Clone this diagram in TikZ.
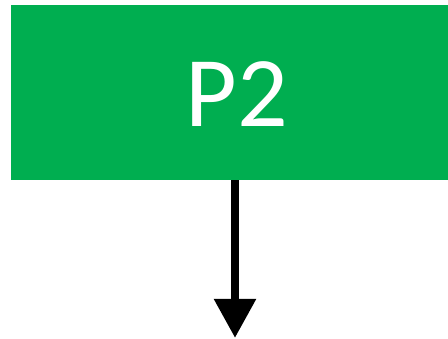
\documentclass[tikz,border=0pt]{standalone}
\usepackage{fontspec}
\setmainfont{Carlito}
\usetikzlibrary{arrows.meta}
\definecolor{boxgreen}{HTML}{00AE50}
\tikzset{
  greenbox/.style={fill=boxgreen, draw=none, minimum width=452pt, minimum height=175pt, inner sep=0pt},
  boxtext/.style={text=white, font=\fontsize{100}{120}\selectfont, inner sep=0pt, anchor=base},
  flowarrow/.style={line width=8.5pt, -{Triangle[width=40pt,length=39pt]}}
}
\begin{document}
\begin{tikzpicture}[x=1pt,y=1pt]
\useasboundingbox (0,0) rectangle (448,339);
\node[greenbox] (box) at (237,246.5) {};
\node[boxtext] (lbl) at (237,212) {P2};
\coordinate (end) at (235,1);
\draw[flowarrow] (box.south -| end) -- (end);
\end{tikzpicture}
\end{document}
